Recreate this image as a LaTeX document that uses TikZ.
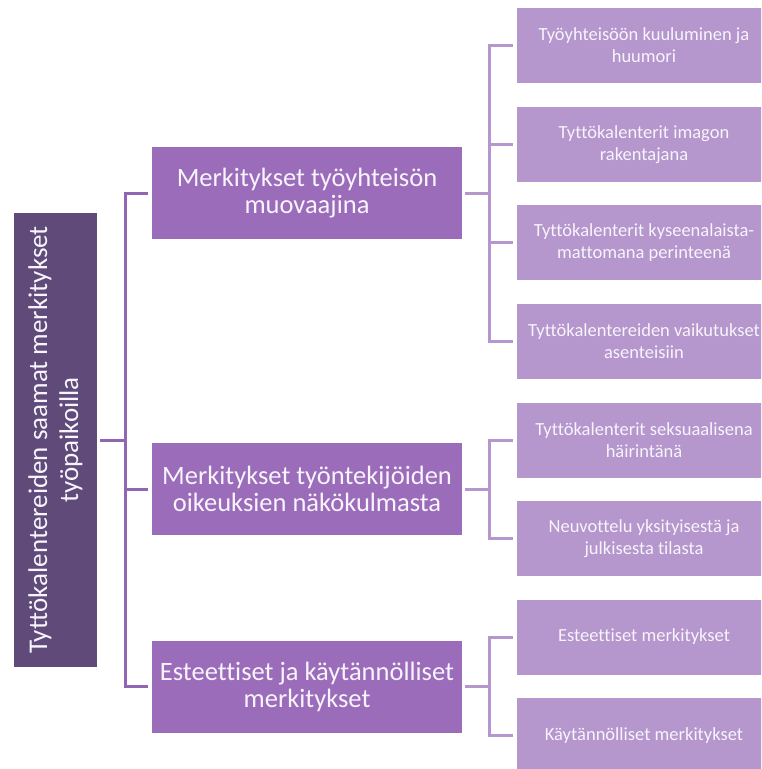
\documentclass[tikz,border=0pt]{standalone}
\usepackage{fontspec}
\setmainfont{Carlito}[Ligatures=NoCommon]
\definecolor{rootc}{HTML}{5F4A7A}
\definecolor{midc}{HTML}{9B6CBA}
\definecolor{leafc}{HTML}{B596CD}
\definecolor{midline}{HTML}{9265B3}
\definecolor{txt}{HTML}{F8F4FB}
\begin{document}
\begin{tikzpicture}[x=1pt,y=-1pt,
  rootbox/.style={fill=rootc,draw=none,minimum width=83pt,minimum height=454pt,inner sep=0pt},
  midbox/.style={fill=midc,draw=none,minimum width=310pt,minimum height=92pt,inner sep=0pt,
    text=txt,align=center,font=\fontsize{26.5}{27}\selectfont},
  leafbox/.style={fill=leafc,draw=none,minimum width=254pt,minimum height=75pt,inner sep=0pt,
    text=txt,align=center,font=\fontsize{18.5}{22}\selectfont},
  conn/.style={draw=midline,line width=3pt},
  lconn/.style={draw=leafc,line width=3pt}]
\useasboundingbox (0,0) rectangle (761,769);
\clip (0,0) rectangle (761,769);
\node[rootbox] (root) at (55.5,440) {};
\node[rotate=90,text=txt,align=center,font=\fontsize{27}{31}\selectfont] (roottext) at (root.center)
  {Tyttökalentereiden saamat merkitykset\\työpaikoilla};
\node[midbox] (m1) at (307,193) {Merkitykset työyhteisön\\muovaajina};
\node[midbox] (m2) at (307,489) {Merkitykset työntekijöiden\\oikeuksien näkökulmasta};
\node[midbox] (m3) at (307,686.5) {Esteettiset ja käytännölliset\\merkitykset};
\node[leafbox] (l1) at (644,45.5) {Työyhteisöön kuuluminen ja\\huumori};
\node[leafbox] (l2) at (644,144.5) {Tyttökalenterit imagon\\rakentajana};
\node[leafbox] (l3) at (644,242.5) {Tyttökalenterit kyseenalaista-\\mattomana perinteenä};
\node[leafbox] (l4) at (644,341) {Tyttökalentereiden vaikutukset\\asenteisiin};
\node[leafbox] (l5) at (644,440) {Tyttökalenterit seksuaalisena\\häirintänä};
\node[leafbox] (l6) at (644,538.5) {Neuvottelu yksityisestä ja\\julkisesta tilasta};
\node[leafbox] (l7) at (644,637) {Esteettiset merkitykset};
\node[leafbox] (l8) at (644,735.5) {Käytännölliset merkitykset};
\coordinate (bx) at (125.5,0);
\coordinate (cx) at (489.5,0);
% root level
\draw[conn] ([xshift=3pt]root.east) -- (bx|-root.east);
\draw[conn] ([xshift=-4pt]m1.west) -| (bx|-m3.west) -- ([xshift=-4pt]m3.west);
\draw[conn] (bx|-m2.west) -- ([xshift=-4pt]m2.west);
% leaf level, group 1
\draw[lconn] ([xshift=3pt]m1.east) -- (cx|-m1.east);
\draw[lconn] ([xshift=-4pt]l1.west) -| (cx|-l4.west) -- ([xshift=-4pt]l4.west);
\draw[lconn] (cx|-l2.west) -- ([xshift=-4pt]l2.west);
\draw[lconn] (cx|-l3.west) -- ([xshift=-4pt]l3.west);
% group 2
\draw[lconn] ([xshift=3pt]m2.east) -- (cx|-m2.east);
\draw[lconn] ([xshift=-4pt]l5.west) -| (cx|-l6.west) -- ([xshift=-4pt]l6.west);
% group 3
\draw[lconn] ([xshift=3pt]m3.east) -- (cx|-m3.east);
\draw[lconn] ([xshift=-4pt]l7.west) -| (cx|-l8.west) -- ([xshift=-4pt]l8.west);
\end{tikzpicture}
\end{document}
